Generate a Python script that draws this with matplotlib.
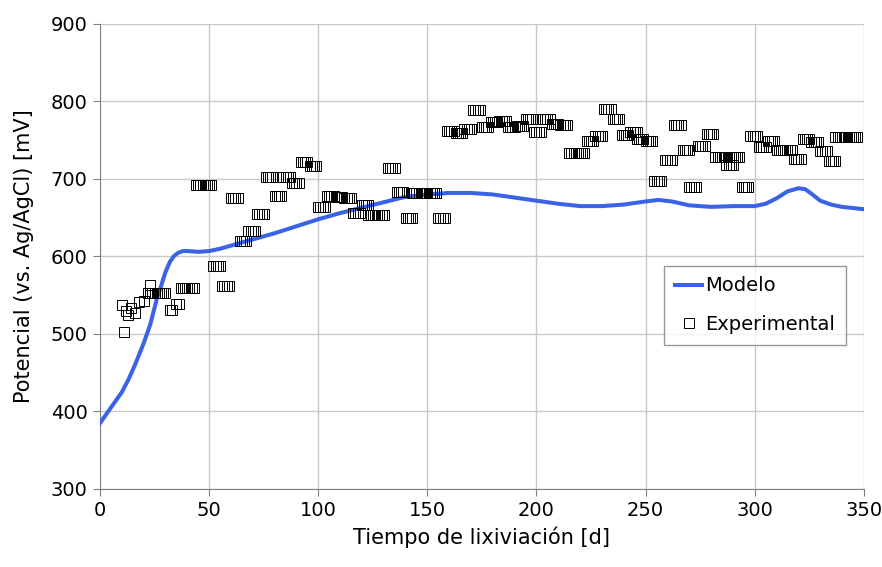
import numpy as np
import matplotlib
matplotlib.use('Agg')
import matplotlib.pyplot as plt

# Modelo (smoothed curve)
model_day = [0, 5, 10, 13, 16, 20, 23, 26, 28, 30, 32, 34, 36, 38, 40, 45, 50, 55, 60,
             70, 80, 90, 100, 110, 120, 130, 140, 150, 160, 170, 180, 190, 200, 210,
             220, 230, 240, 250, 256, 262, 270, 280, 290, 300, 305, 310, 315, 320,
             323, 326, 330, 335, 340, 350]
model_mv = [385, 405, 425, 441, 460, 488, 512, 545, 562, 580, 593, 601, 605, 607, 607,
            606, 607, 610, 614, 622, 630, 639, 648, 656, 663, 670, 677, 680, 682, 682,
            680, 676, 672, 668, 665, 665, 667, 671, 673, 671, 666, 664, 665, 665, 668,
            675, 684, 688, 687, 681, 672, 667, 664, 661]

# Experimental: runs of daily readings (first day, value, number of days)
exp_start = [10, 11, 12, 13, 14, 16, 18, 20, 23, 22, 32, 35, 37, 44, 52, 56, 60, 64,
             68, 72, 76, 80, 84, 88, 92, 96, 100, 104, 108, 112, 120, 116, 123, 132,
             136, 143, 140, 155, 159, 163, 167, 171, 175, 179, 183, 187, 191, 195, 199,
             203, 207, 211, 215, 223, 227, 231, 235, 239, 243, 246, 250, 254, 259, 263,
             267, 270, 274, 278, 282, 287, 294, 298, 302, 306, 310, 314, 318, 322, 326,
             330, 334, 337]
exp_mv = [537, 502, 530, 524, 533, 527, 541, 543, 563, 553, 531, 539, 559, 692, 588,
          562, 676, 620, 633, 655, 702, 678, 703, 695, 722, 717, 664, 678, 677, 676,
          667, 656, 654, 714, 683, 682, 650, 650, 762, 759, 765, 789, 767, 774, 775,
          767, 769, 777, 761, 778, 771, 770, 733, 749, 756, 790, 777, 757, 761, 752,
          749, 698, 724, 770, 737, 690, 742, 758, 729, 718, 690, 756, 741, 749, 738,
          738, 726, 751, 748, 736, 723, 754]
exp_n = [1, 1, 1, 1, 1, 1, 1, 1, 1, 9, 2, 2, 7, 8, 4, 4, 4, 4, 4, 4, 4, 4, 4, 4, 4, 4,
         4, 4, 4, 4, 4, 4, 8, 4, 4, 12, 4, 4, 4, 4, 4, 4, 4, 4, 4, 4, 4, 4, 4, 4, 4, 4,
         8, 4, 4, 4, 4, 4, 4, 4, 4, 4, 4, 4, 4, 4, 4, 4, 12, 4, 4, 4, 4, 4, 4, 4, 4, 4,
         4, 4, 4, 11]

exp_day = np.concatenate([np.arange(s, s + n) for s, n in zip(exp_start, exp_n)])
exp_val = np.repeat(exp_mv, exp_n)

fig = plt.figure(figsize=(8.82, 5.67), dpi=100)
ax = fig.add_axes([0.1134, 0.1376, 0.866, 0.8201])

ax.plot(model_day, model_mv, color='#3a63e6', lw=2.9, label='Modelo', zorder=3)
ax.plot(exp_day, exp_val, ls='none', marker='s', ms=7.2, mfc='none', mec='black',
        mew=0.7, label='Experimental', zorder=4)

ax.set_xlim(0, 350)
ax.set_ylim(300, 900)
ax.set_xticks(np.arange(0, 351, 50))
ax.set_yticks(np.arange(300, 901, 100))
ax.grid(True, color='#c8c8c8', lw=1)
ax.set_axisbelow(True)
for s in ['top', 'right']:
    ax.spines[s].set_visible(False)
for s in ['left', 'bottom']:
    ax.spines[s].set_color('#808080')
ax.tick_params(direction='out', length=5, color='#808080', labelsize=14, pad=4)

ax.set_xlabel('Tiempo de lixiviación [d]', fontsize=15, labelpad=4)
ax.set_ylabel('Potencial (vs. Ag/AgCl) [mV]', fontsize=15, labelpad=12)

leg = ax.legend(loc='upper left', bbox_to_anchor=(0.739, 0.48), borderaxespad=0,
                fontsize=14, frameon=True, fancybox=False, handlelength=1.4,
                handletextpad=0.15, borderpad=0.55, labelspacing=1.0)
leg.get_frame().set_edgecolor('#808080')
leg.get_frame().set_linewidth(1)

fig.savefig('out.png', dpi=100)
